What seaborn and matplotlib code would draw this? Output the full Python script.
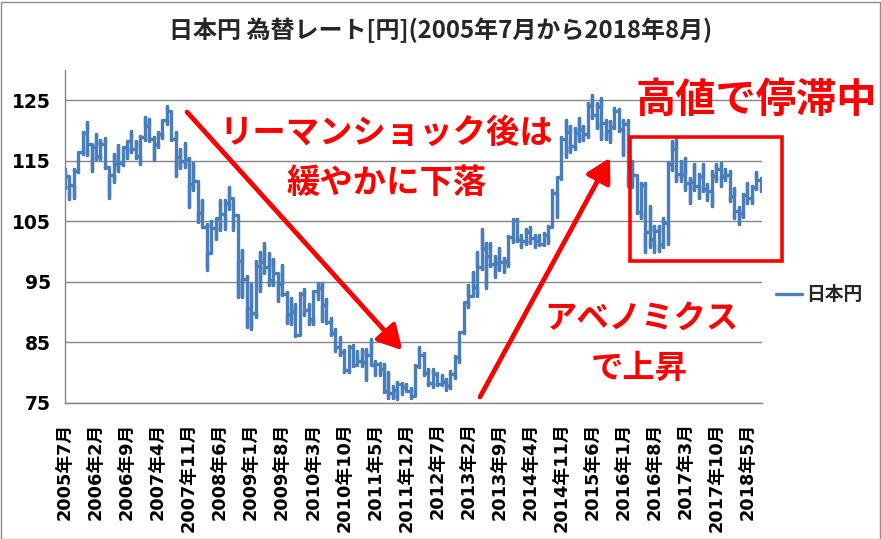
import matplotlib
matplotlib.use('Agg')
import matplotlib.pyplot as plt
import pandas as pd
import seaborn as sns
from matplotlib.patches import Rectangle

# Monthly data: high / low / month-end value (円)
months = pd.period_range('2005-07', '2018-08', freq='M')

high = [113.7, 112.0, 113.6, 116.4, 119.8, 121.4,
        117.8, 119.4, 118.4, 118.7, 114.0, 116.1, 117.6, 117.3, 118.2, 119.9, 118.2, 119.1,
        122.2, 121.9, 119.0, 119.8, 121.8, 124.1, 123.2, 119.8, 117.0, 118.0, 115.4, 114.6,
        111.6, 108.5, 104.6, 105.0, 105.5, 108.6, 108.6, 110.6, 108.9, 106.0, 100.3, 96.0,
        94.6, 98.5, 99.9, 101.4, 99.8, 98.8, 96.0, 97.8, 93.3, 92.3, 91.3, 93.1,
        93.8, 91.4, 93.5, 94.8, 94.9, 92.1, 89.1, 87.2, 85.9, 83.7, 84.4, 84.5,
        83.6, 84.0, 83.9, 85.5, 82.0, 81.6, 81.4, 80.2, 77.8, 78.5, 78.3, 78.2,
        77.5, 81.2, 84.2, 83.3, 80.6, 80.6, 79.9, 79.7, 78.9, 80.3, 82.8, 86.6,
        91.3, 94.5, 96.7, 99.9, 103.7, 101.5, 101.5, 99.2, 100.6, 99.0, 102.6, 105.4,
        105.4, 102.7, 103.8, 104.1, 102.7, 102.8, 103.1, 104.2, 110.1, 112.4, 118.9, 121.8,
        120.8, 120.5, 122.0, 120.8, 124.5, 125.9, 124.6, 125.3, 121.8, 121.5, 123.8, 123.6,
        121.7, 121.7, 114.9, 112.7, 111.4, 111.4, 107.5, 104.3, 104.3, 105.5, 114.8, 118.2,
        118.6, 115.0, 115.5, 112.2, 114.4, 112.9, 114.5, 111.1, 113.3, 114.4, 114.7, 113.7,
        113.4, 110.5, 107.3, 109.5, 111.4, 110.9, 113.2, 112.2]

low = [110.5, 108.7, 108.8, 113.2, 116.1, 115.9,
       113.4, 115.3, 115.3, 113.8, 108.9, 111.5, 113.4, 114.3, 115.4, 116.5, 115.4, 114.4,
       118.5, 118.2, 115.2, 117.3, 118.8, 121.0, 118.4, 112.5, 113.8, 114.0, 107.3, 110.2,
       104.9, 104.0, 97.0, 99.7, 102.1, 103.6, 103.8, 107.0, 103.5, 92.5, 92.5, 87.5,
       87.3, 89.2, 93.5, 96.5, 94.5, 94.5, 91.8, 92.9, 88.2, 88.0, 86.0, 86.3,
       89.6, 88.1, 88.1, 92.2, 88.6, 88.2, 86.3, 83.6, 82.9, 80.2, 80.2, 81.1,
       81.3, 81.1, 78.8, 81.3, 79.6, 79.7, 76.8, 75.9, 75.9, 75.6, 76.5, 76.9,
       75.8, 76.1, 80.9, 79.6, 78.0, 77.7, 77.9, 77.9, 77.1, 77.4, 79.1, 81.7,
       86.5, 90.9, 92.6, 92.6, 97.1, 94.0, 97.6, 95.8, 97.0, 96.6, 97.6, 101.6,
       101.8, 100.8, 101.2, 101.4, 100.8, 101.1, 101.1, 101.5, 104.0, 105.8, 112.0, 115.6,
       116.5, 116.9, 118.3, 118.5, 118.9, 122.0, 120.4, 118.6, 118.6, 118.1, 120.5, 119.9,
       115.9, 110.9, 110.7, 106.3, 105.6, 100.0, 100.7, 100.0, 100.1, 100.8, 101.2, 113.5,
       111.6, 111.6, 110.1, 108.1, 110.2, 108.8, 110.0, 108.6, 107.5, 111.7, 110.8, 111.9,
       108.3, 105.5, 104.6, 105.7, 108.1, 108.1, 110.3, 110.0]

close = [112.5, 111.0, 113.4, 116.4, 119.6, 117.8,
         117.2, 115.8, 117.7, 113.9, 112.6, 114.5, 114.6, 117.3, 118.2, 116.9, 115.8, 119.0,
         120.7, 118.6, 117.8, 119.5, 121.7, 123.2, 118.6, 115.7, 115.0, 115.3, 111.2, 111.7,
         106.3, 104.0, 99.7, 103.9, 105.5, 106.2, 108.1, 108.8, 106.0, 98.4, 95.5, 90.7,
         89.9, 97.6, 98.3, 97.5, 95.3, 96.4, 94.7, 93.0, 89.7, 90.0, 86.3, 93.0,
         90.3, 88.9, 93.5, 94.0, 91.2, 88.4, 86.5, 84.2, 83.5, 80.4, 84.2, 81.2,
         82.0, 81.8, 83.0, 81.2, 81.5, 80.6, 77.0, 76.7, 77.1, 78.2, 77.7, 76.9,
         76.2, 81.1, 82.9, 80.0, 78.3, 79.8, 78.1, 78.4, 77.9, 79.8, 82.6, 86.7,
         91.7, 92.6, 94.2, 97.4, 100.5, 99.2, 97.9, 98.2, 98.3, 98.4, 102.4, 105.3,
         102.0, 101.8, 103.2, 102.2, 101.8, 101.3, 102.8, 104.1, 109.7, 112.3, 118.6, 119.8,
         117.5, 119.6, 120.1, 119.4, 124.1, 122.5, 123.9, 121.2, 119.9, 120.6, 123.2, 120.2,
         121.1, 112.7, 112.6, 106.5, 111.0, 103.2, 102.1, 103.4, 101.3, 104.8, 114.4, 117.0,
         112.8, 112.7, 111.4, 111.5, 110.8, 112.4, 110.3, 110.0, 112.5, 113.6, 112.5, 112.7,
         109.2, 106.7, 106.3, 109.3, 108.8, 110.7, 111.9, 111.0]
first_open = 111.0

tick_labels = ['2005年7月', '2006年2月', '2006年9月', '2007年4月', '2007年11月', '2008年6月',
               '2009年1月', '2009年8月', '2010年3月', '2010年10月', '2011年5月', '2011年12月',
               '2012年7月', '2013年2月', '2013年9月', '2014年4月', '2014年11月', '2015年6月',
               '2016年1月', '2016年8月', '2017年3月', '2017年10月', '2018年5月']
y_ticks = [75, 85, 95, 105, 115, 125]

# Excel date axis with month base unit: every month collapses to one x position
rows = []
prev = first_open
for i, (h, l, c) in enumerate(zip(high, low, close)):
    order = [prev, l, h, c] if c >= prev else [prev, h, l, c]
    rows += [(i, v) for v in order]
    prev = c
df = pd.DataFrame(rows, columns=['month', 'rate'])

sns.set_theme(style='white')
plt.rcParams['font.family'] = ['DejaVu Sans', 'Noto Sans CJK JP']
JP = ['Noto Sans CJK JP', 'DejaVu Sans']
GRAY = '#868686'
RED = '#FF0000'

W, H = 881, 539
fig = plt.figure(figsize=(W / 100, H / 100), dpi=100)
ax = fig.add_axes([65 / W, 1 - 403 / H, (762 - 65) / W, (403 - 70) / H])

sns.lineplot(data=df, x='month', y='rate', sort=False, estimator=None,
             color='#4A7EBB', linewidth=2.4, ax=ax, legend=False)

ax.set_xlim(0, 157.3)
ax.set_ylim(75, 130)
ax.set_yticks(y_ticks)
ax.set_xticks(range(0, len(months), 7))
ax.set_xticklabels(tick_labels, rotation=90, fontsize=12.8, fontweight='bold')
for t in ax.get_yticklabels():
    t.set_fontsize(13.5)
    t.set_fontweight('bold')
ax.set_xlabel('')
ax.set_ylabel('')
ax.yaxis.grid(True, color=GRAY, linewidth=1)
ax.set_axisbelow(True)
for s in ['top', 'right']:
    ax.spines[s].set_visible(False)
for s in ['left', 'bottom']:
    ax.spines[s].set_color(GRAY)
    ax.spines[s].set_linewidth(1)
ax.tick_params(axis='both', direction='out', length=6, width=1, color=GRAY,
               labelcolor='black', pad=4)
ax.tick_params(axis='x', pad=8)

fig.text(441 / W, 1 - 30 / H, '日本円 為替レート[円](2005年7月から2018年8月)',
         ha='center', va='center', fontsize=17.3, fontweight='bold', family=JP)

fig.legend(handles=[ax.get_lines()[0]], labels=['日本円'], loc='center left',
           bbox_to_anchor=(772 / W, 1 - 295 / H), frameon=False, handlelength=1.4,
           handletextpad=0.2, borderpad=0.2, borderaxespad=0,
           prop=dict(family=JP, weight='bold', size=13.5))

# annotations (figure pixel positions)
def px(x, y):
    return (x, H - y)

arrow = dict(arrowstyle='-|>,head_length=0.9,head_width=0.5', color=RED, lw=3.2,
             mutation_scale=16, shrinkA=0, shrinkB=0)
fig.add_artist(plt.annotate('', xy=px(402, 350), xytext=px(187, 112),
                            xycoords='figure pixels', arrowprops=arrow))
fig.add_artist(plt.annotate('', xy=px(610, 158), xytext=px(480, 397),
                            xycoords='figure pixels', arrowprops=arrow))

texts = [('リーマンショック後は', 386, 133, 24), ('緩やかに下落', 387, 183, 24),
         ('アベノミクス', 641, 318, 23.3), ('で上昇', 639, 368, 23.3),
         ('高値で停滞中', 756, 100, 29)]
for s, x, y, size in texts:
    fig.text(x / W, 1 - y / H, s, ha='center', va='center', color=RED,
             fontsize=size, fontweight='bold', family=JP)

fig.add_artist(Rectangle((630 / W, 1 - 261 / H), (782 - 630) / W, (261 - 137) / H,
                         transform=fig.transFigure, fill=False, edgecolor=RED, lw=2.6))
fig.add_artist(Rectangle((0.5 / W, 0.5 / H), (W - 2) / W, (H - 2) / H,
                         transform=fig.transFigure, fill=False, edgecolor='#8C8C8C', lw=1))

fig.savefig('out.png', dpi=100)
